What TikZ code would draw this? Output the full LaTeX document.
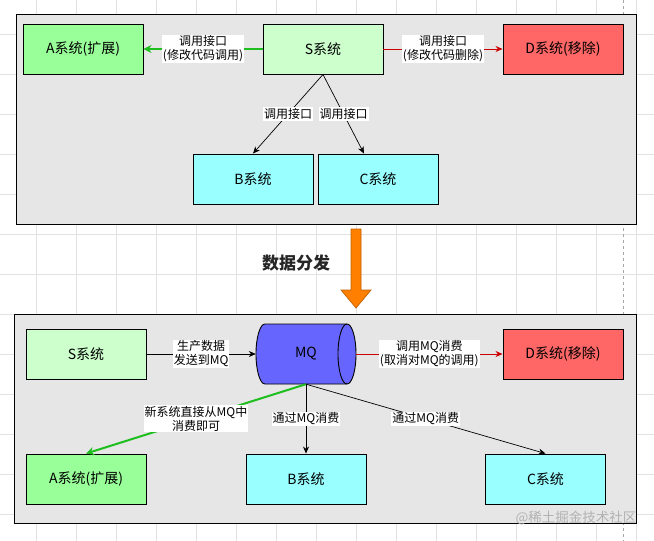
\documentclass[tikz,border=0pt]{standalone}
\usepackage{fontspec}
\setmainfont{Noto Sans CJK SC}
\usepackage{tikz}
\usetikzlibrary{arrows.meta,positioning}
\definecolor{panelgray}{RGB}{230,230,230}
\definecolor{gridgray}{RGB}{226,226,226}
\definecolor{sysgreen}{RGB}{153,255,153}
\definecolor{syslight}{RGB}{204,255,204}
\definecolor{sysred}{RGB}{255,102,102}
\definecolor{syscyan}{RGB}{153,255,255}
\definecolor{mqblue}{RGB}{102,102,255}
\definecolor{arrgreen}{RGB}{30,190,30}
\definecolor{arrred}{RGB}{204,0,0}
\definecolor{flowamber}{RGB}{255,128,0}
\tikzset{
  panel/.style={rectangle,draw=black,line width=1.1pt,fill=panelgray},
  sysbox/.style={rectangle,draw=black,line width=0.9pt,minimum width=120pt,minimum height=50pt,
                 inner sep=0pt,font=\fontsize{14}{16}\selectfont},
  newsys/.style={sysbox,fill=sysgreen},
  srcsys/.style={sysbox,fill=syslight},
  oldsys/.style={sysbox,fill=sysred},
  consys/.style={sysbox,fill=syscyan},
  lbl/.style={fill=white,text=black,inner sep=1pt,align=center,font=\fontsize{12}{14}\selectfont},
  gridline/.style={draw=gridgray,line width=0.6pt},
  arr/.style={-{Stealth[length=7pt,width=6pt]},line width=0.7pt,color=black},
  greenarr/.style={-{Stealth[length=8pt,width=8pt]},line width=2pt,color=arrgreen},
  redarr/.style={-{Stealth[length=7pt,width=6pt]},line width=0.8pt,color=arrred}
}

\begin{document}
\begin{tikzpicture}[x=1pt,y=1pt]
  \useasboundingbox (0,0) rectangle (654,-541);

  %% Background grid
  \foreach \x in {36.7,76.7,...,640} \draw[gridline] (\x,0) -- (\x,-541);
  \foreach \y in {-34.3,-74.3,...,-541} \draw[gridline] (0,\y) -- (654,\y);
  \draw[gray!70,dashed,line width=0.6pt] (623.3,0) -- (623.3,-541);

  %% Panels
  \node[panel,anchor=north west,minimum width=620pt,minimum height=210pt] (topPanel) at (16,-14) {};
  \node[panel,anchor=north west,minimum width=622.5pt,minimum height=209pt] (botPanel) at (13.5,-314) {};

  %% Before: direct calls
  \node[newsys] (aTop) at (83,-49) {A系统(扩展)};
  \node[srcsys] (sTop) at (323,-49) {S系统};
  \node[oldsys] (dTop) at (563,-49) {D系统(移除)};
  \node[consys] (bTop) at (253,-179) {B系统};
  \node[consys] (cTop) at (378,-179) {C系统};

  \draw[greenarr] (sTop) -- (aTop) node[lbl,midway] {调用接口\\(修改代码调用)};
  \draw[redarr] (sTop) -- (dTop) node[lbl,midway] {调用接口\\(修改代码删除)};
  \draw[arr] (sTop.south) -- (bTop.north) node[lbl,midway] {调用接口};
  \draw[arr] (sTop.south) -- ([xshift=-14pt]cTop.north) node[lbl,midway] {调用接口};

  %% Transition
  \filldraw[fill=flowamber,draw=flowamber!75!black,line width=0.7pt]
    (351,-229) -- (361,-229) -- (361,-290) -- (371,-290) -- (356,-308)
    -- (341,-290) -- (351,-290) -- cycle;
  \node[font=\fontsize{17}{20}\selectfont\bfseries,text=black!85] (flowLabel) at (296,-263) {数据分发};

  %% After: message queue
  \filldraw[fill=mqblue,draw=black,line width=0.9pt]
    (265,-324) -- (347,-324) arc[start angle=90,end angle=-90,x radius=9,y radius=30]
    -- (265,-384) arc[start angle=270,end angle=90,x radius=9,y radius=30] -- cycle;
  \draw[line width=0.9pt] (347,-324) arc[start angle=90,end angle=270,x radius=9,y radius=30];
  \node[minimum width=100pt,minimum height=60pt,inner sep=0pt,
        font=\fontsize{14}{16}\selectfont] (mq) at (306,-354) {MQ};

  \node[srcsys] (sBot) at (86,-354) {S系统};
  \node[oldsys] (dBot) at (563,-354) {D系统(移除)};
  \node[newsys] (aBot) at (86,-479) {A系统(扩展)};
  \node[consys] (bBot) at (306,-479) {B系统};
  \node[consys] (cBot) at (545.5,-479) {C系统};

  \draw[arr] (sBot) -- (mq) node[lbl,midway] {生产数据\\发送到MQ};
  \draw[redarr] (mq) -- (dBot) node[lbl,midway] {调用MQ消费\\(取消对MQ的调用)};
  \draw[greenarr] (mq.south) -- (aBot.north) node[lbl,midway] {新系统直接从MQ中\\消费即可};
  \draw[arr] (mq.south) -- (bBot.north) node[lbl,midway] {通过MQ消费};
  \draw[arr] (mq.south) -- (cBot.north) node[lbl,midway] {通过MQ消费};

  %% Watermark
  \node[text=gray!60,font=\fontsize{13.5}{16}\selectfont] (mark) at (576,-518) {@稀土掘金技术社区};
\end{tikzpicture}
\end{document}
